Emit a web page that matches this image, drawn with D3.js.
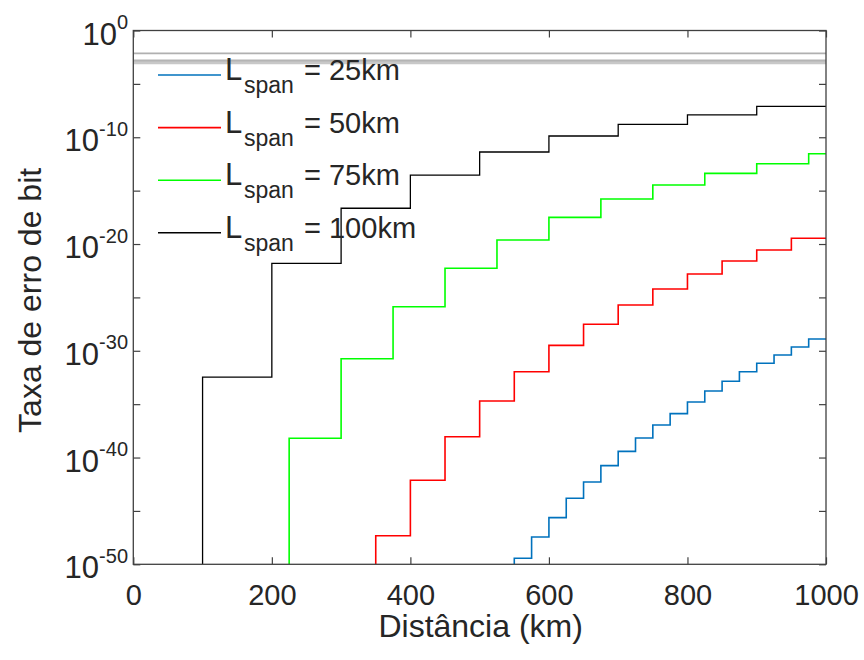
<!DOCTYPE html>
<html>
<head>
<meta charset="utf-8">
<script src="https://cdn.jsdelivr.net/npm/d3@7"></script>
<style>
  html, body { margin: 0; padding: 0; background: #fff; }
  svg text { font-family: 'Liberation Sans', Arial, Helvetica, sans-serif; fill: #262626; }
</style>
</head>
<body>
<svg id="chart" width="864" height="660"></svg>
<script>
// ---------------- DATA ----------------
const spanLabels = ["25km", "50km", "75km", "100km"];
const seriesColors = ["#0072BD", "#FF0000", "#00FF00", "#000000"];

// step start distances (km) and log10(BER) of each step
const km25 = [550, 575, 600, 625, 650, 675, 700, 725, 750, 775, 800, 825, 850, 875, 900, 925, 950, 975];
const logBer25 = [-49.44, -47.44, -45.63, -43.82, -42.29, -40.76, -39.42, -38.17, -36.95, -35.89, -34.80, -33.77, -32.86, -31.96, -31.17, -30.39, -29.65, -28.90];

const km50 = [350, 400, 450, 500, 550, 600, 650, 700, 750, 800, 850, 900, 950];
const logBer50 = [-47.32, -42.13, -38.05, -34.70, -31.96, -29.49, -27.51, -25.71, -24.21, -22.81, -21.59, -20.56, -19.46];

const km75 = [225, 300, 375, 450, 525, 600, 675, 750, 825, 900, 975];
const logBer75 = [-38.20, -30.74, -25.87, -22.27, -19.62, -17.50, -15.78, -14.47, -13.38, -12.48, -11.54];

const km100 = [100, 200, 300, 400, 500, 600, 700, 800, 900];
const logBer100 = [-32.46, -21.81, -16.65, -13.54, -11.38, -9.88, -8.79, -7.91, -7.10];

// grey horizontal reference lines near the top (log10 level, grey)
const greyLevels = [-2.14, -2.84, -3.03];
const greyColors = ["#b0b0b0", "#b4b4b4", "#c8c8c8"];

const xTicks = [0, 200, 400, 600, 800, 1000];
const yTickExps = [0, -5, -10, -15, -20, -25, -30, -35, -40, -45, -50];
const yLabelExps = ["0", "-10", "-20", "-30", "-40", "-50"];
const xMax = 1000;

// ---------------- CHART ----------------
const svg = d3.select("#chart");
const L = 133.3, R = 826, T = 30.5, B = 564.3;

const x = d3.scaleLinear().domain([0, xMax]).range([L, R]);
const y = d3.scaleLog().domain([1e-50, 1]).range([B, T]);

svg.append("defs").append("clipPath").attr("id", "clip")
  .append("rect").attr("x", L).attr("y", T).attr("width", R - L).attr("height", B - T);

const plot = svg.append("g").attr("clip-path", "url(#clip)");

// grey lines
greyLevels.forEach((lv, i) => {
  plot.append("line")
    .attr("x1", x(0)).attr("x2", x(xMax))
    .attr("y1", y(Math.pow(10, lv))).attr("y2", y(Math.pow(10, lv)))
    .attr("stroke", greyColors[i]).attr("stroke-width", i === 0 ? 1.6 : 2.6);
});

const allSeries = [
  { km: km25, v: logBer25 },
  { km: km50, v: logBer50 },
  { km: km75, v: logBer75 },
  { km: km100, v: logBer100 }
];

const line = d3.line().x(d => x(d[0])).y(d => y(d[1])).curve(d3.curveStepAfter);

allSeries.forEach((s, i) => {
  const pts = [[s.km[0], y.domain()[0]]];
  s.km.forEach((k, j) => pts.push([k, Math.pow(10, s.v[j])]));
  pts.push([xMax, Math.pow(10, s.v[s.v.length - 1])]);
  plot.append("path").datum(pts)
    .attr("fill", "none")
    .attr("stroke", seriesColors[i])
    .attr("stroke-width", i === 3 ? 1.3 : 1.6)
    .attr("d", line);
});

// axes (ticks inward, box)
const axisColor = "#404040";
const gB = svg.append("g").attr("transform", `translate(0,${B})`)
  .call(d3.axisBottom(x).tickValues(xTicks).tickSize(-7).tickPadding(20).tickFormat(d3.format("d")));
const gTop = svg.append("g").attr("transform", `translate(0,${T})`)
  .call(d3.axisTop(x).tickValues(xTicks).tickSize(-7).tickFormat(""));
const gLft = svg.append("g").attr("transform", `translate(${L},0)`)
  .call(d3.axisLeft(y).tickValues(yTickExps.map(e => Math.pow(10, e))).tickSize(-7).tickFormat(""));
const gRgt = svg.append("g").attr("transform", `translate(${R},0)`)
  .call(d3.axisRight(y).tickValues(yTickExps.map(e => Math.pow(10, e))).tickSize(-7).tickFormat(""));
[gB, gTop, gLft, gRgt].forEach(g => {
  g.select(".domain").remove();
  g.selectAll(".tick line").attr("stroke", axisColor).attr("stroke-width", 1.2);
});
gB.selectAll(".tick text")
  .attr("font-size", 29).attr("fill", "#262626")
  .style("font-family", "'Liberation Sans', Arial, sans-serif");
gB.attr("font-size", null);

svg.append("rect").attr("x", L).attr("y", T).attr("width", R - L).attr("height", B - T)
  .attr("fill", "none").attr("stroke", axisColor).attr("stroke-width", 1.3);

// y tick labels 10^n
yLabelExps.forEach(e => {
  const ty = y(Math.pow(10, +e));
  const t = svg.append("text")
    .attr("x", 128).attr("y", ty + 14)
    .attr("text-anchor", "end");
  t.append("tspan").attr("font-size", 31).text("10");
  t.append("tspan").attr("font-size", 20).attr("dy", -15.5).text(e);
});

// axis titles
svg.append("text")
  .attr("x", (L + R) / 2 + 1).attr("y", 637)
  .attr("text-anchor", "middle").attr("font-size", 32)
  .text("Distância (km)");
svg.append("text")
  .attr("transform", `translate(41,${(T + B) / 2 + 3}) rotate(-90)`)
  .attr("text-anchor", "middle").attr("font-size", 32)
  .text("Taxa de erro de bit");

// legend (no box)
const legend = svg.append("g");
spanLabels.forEach((lab, i) => {
  const ly = 75 + i * 52.6;
  legend.append("line")
    .attr("x1", 158).attr("x2", 221).attr("y1", ly).attr("y2", ly)
    .attr("stroke", seriesColors[i]).attr("stroke-width", 1.6);
  legend.append("text").attr("x", 225).attr("y", ly + 5).attr("font-size", 31).text("L");
  legend.append("text").attr("x", 244).attr("y", ly + 18).attr("font-size", 23).text("span");
  legend.append("text").attr("x", 304).attr("y", ly + 5).attr("font-size", 29).text("= " + lab);
});
</script>
</body>
</html>
